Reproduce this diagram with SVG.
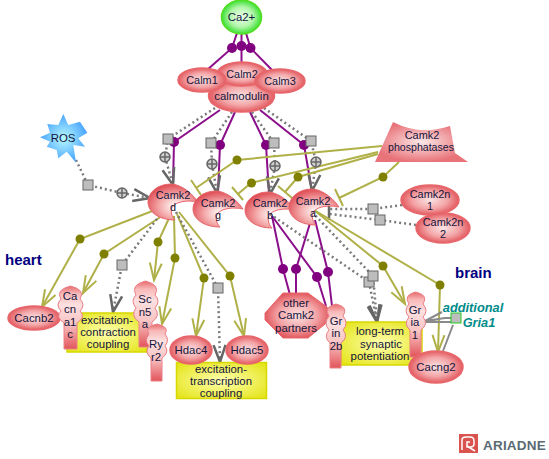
<svg xmlns="http://www.w3.org/2000/svg" width="549" height="459" viewBox="0 0 549 459">
<style>
text{font-family:"Liberation Sans",Arial,sans-serif;font-size:11.4px;fill:#14143c;text-anchor:middle}
.k{font-size:10.9px}
.ph{font-size:10.6px}
.e{fill:url(#red);stroke:#e8666a;stroke-width:1.5}
.c{fill:url(#cres);stroke:#e8666a;stroke-width:1}
.n{fill:url(#na);stroke:#e98088;stroke-width:1}
.y{fill:url(#yel);stroke:#d8d800;stroke-width:1.5}
.ol{fill:none;stroke:#b0b048;stroke-width:2}
.pu{fill:none;stroke:#8b0f8b;stroke-width:2}
.dg{fill:none;stroke:#7a7a7a;stroke-width:2.5;stroke-dasharray:2 3}
.t{fill:none;stroke:#b0b048;stroke-width:2}
.d{fill:#808000}
.p{fill:#800080}
.s{fill:#bdbdbd;stroke:#666;stroke-width:1}
.big{font-size:15px;font-weight:bold;fill:#000080;text-anchor:start}
.teal{font-size:12.8px;font-weight:bold;font-style:italic;fill:#008b8b}
</style>
<defs>
<radialGradient id="red"><stop offset="0" stop-color="#fbe4e4"/><stop offset=".6" stop-color="#f3a4a6"/><stop offset="1" stop-color="#e25a60"/></radialGradient>
<radialGradient id="cres" cx=".55" cy=".62" r=".6"><stop offset="0" stop-color="#fff"/><stop offset=".5" stop-color="#f5b0b0"/><stop offset="1" stop-color="#e0525a"/></radialGradient>
<radialGradient id="grn"><stop offset="0" stop-color="#f0fff0"/><stop offset=".6" stop-color="#b0f5a8"/><stop offset="1" stop-color="#38e030"/></radialGradient>
<radialGradient id="blu"><stop offset="0" stop-color="#b8fbff"/><stop offset="1" stop-color="#4aa4ff"/></radialGradient>
<radialGradient id="pin"><stop offset="0" stop-color="#fde8e8"/><stop offset="1" stop-color="#e8747a"/></radialGradient>
<radialGradient id="yel" r=".7"><stop offset="0" stop-color="#ffffb0"/><stop offset="1" stop-color="#e2e210"/></radialGradient>
<linearGradient id="na" x1="0" y1="0" x2="0" y2="1"><stop offset="0" stop-color="#e8686c"/><stop offset=".12" stop-color="#f8b8b8"/><stop offset=".3" stop-color="#fde0e0"/><stop offset=".6" stop-color="#f8c4c4"/><stop offset="1" stop-color="#e2545a"/></linearGradient>
<marker id="aO" markerUnits="userSpaceOnUse" markerWidth="22" markerHeight="16" refX="19" refY="8" orient="auto"><path d="M2,2 L19,8 L2,14" fill="none" stroke="#b0b048" stroke-width="2"/></marker>
<marker id="aD" markerUnits="userSpaceOnUse" markerWidth="22" markerHeight="16" refX="19" refY="8" orient="auto"><path d="M2,2 L19,8 L2,14" fill="none" stroke="#666" stroke-width="2.5"/></marker>
<path id="cr" d="M25,0 C17,-12 5,-18 -2,-18 C-16,-18 -25,-9 -25,0 C-25,10 -14,18 2,18 C-2,14 -3,8 0,4 C5,-1 16,-2 25,0 Z"/>
<g id="op"><circle r="5" fill="#d0d0d0" stroke="#666" stroke-width="1.5"/><path d="M-5,0H5M0,-5V5" stroke="#666" stroke-width="1.5"/></g>
</defs>
<g id="connectors">
<path class="pu" d="M237,33 L232,48 L207,70"/><path class="pu" d="M241.5,33 V66"/><path class="pu" d="M246,33 L250.5,48 L272,70"/>
<path class="pu" d="M220,110 L174,142 L173,185"/><path class="pu" d="M235,112 L220,145 L218,193"/><path class="pu" d="M250,112 L266,145 L269,194"/><path class="pu" d="M260,110 L304,145 L312,191"/>
<path class="dg" d="M215,108 L168,139 L165,157" /><path class="dg" d="M165,157 L173,185" marker-end="url(#aD)"/>
<path class="dg" d="M232,112 L211,143 L212,164"/><path class="dg" d="M212,164 L217,193" marker-end="url(#aD)"/>
<path class="dg" d="M252,112 L274,143 L275,166"/><path class="dg" d="M275,166 L270,194" marker-end="url(#aD)"/>
<path class="dg" d="M264,108 L311,141 L316,162"/><path class="dg" d="M316,162 L312,191" marker-end="url(#aD)"/>
<path class="dg" d="M76,160 L88,185 L122,193"/><path class="dg" d="M122,193 L150,198" marker-end="url(#aD)"/>
<path class="ol" d="M382,146 L237,160 L196,188"/><path class="t" d="M191,180 L201,195"/>
<path class="ol" d="M378,152 L251,183 L238,194"/><path class="t" d="M232,187 L243,200"/>
<path class="ol" d="M378,154 L298,177 L285,192"/><path class="t" d="M278,186 L292,198"/>
<path class="ol" d="M399,162 L383,177 L339,198"/><path class="t" d="M335,189 L343,206"/>
<path class="dg" d="M402,205 L373,209 L330,209"/><path class="dg" d="M416,225 L380,220 L330,214"/>
<path d="M329,206 V220" stroke="#666" stroke-width="2.5" fill="none"/>
<path class="ol" d="M155,210 L80,239 L42,307" marker-end="url(#aO)"/>
<path class="ol" d="M165,214 L104,254 L83,293" marker-end="url(#aO)"/>
<path class="dg" d="M160,215 L122,265 L113,312" marker-end="url(#aD)"/>
<path class="ol" d="M170,216 L158,242 L154,280" marker-end="url(#aO)"/>
<path class="ol" d="M174,216 L175,258 L162,324" marker-end="url(#aO)"/>
<path class="ol" d="M177,214 L204,278 L196,336" marker-end="url(#aO)"/>
<path class="ol" d="M179,212 L230,276 L244,336" marker-end="url(#aO)"/>
<path class="dg" d="M176,212 L218,288 L220,362" marker-end="url(#aD)"/>
<path class="pu" d="M272,216 L283,269 L290,295"/><path class="pu" d="M311,220 L296,269 L296,295"/>
<path class="pu" d="M272,216 L317,277 L326,306"/><path class="pu" d="M315,220 L328,272 L332,306"/>
<path class="dg" d="M270,214 L369,282 L377,322" marker-end="url(#aD)"/>
<path class="dg" d="M312,212 L373,276 L377,322" marker-end="url(#aD)"/>
<path class="ol" d="M314,210 L383,266 L405,304" marker-end="url(#aO)"/>
<path class="ol" d="M314,210 L440,285 L438,352" marker-end="url(#aO)"/>
<path d="M442,312 L425,321 L442,322 M425,321 L445,318 L452,318 M425,322 H451" fill="none" stroke="#8a8a8a" stroke-width="2"/>
<path d="M453,325 L443,351" fill="none" stroke="#8a8a8a" stroke-width="2"/>
<circle class="p" cx="232" cy="48" r="5"/><circle class="p" cx="241.5" cy="46" r="5"/><circle class="p" cx="250.5" cy="48" r="5"/>
<circle class="p" cx="174" cy="142" r="5"/><circle class="p" cx="220" cy="145" r="5"/><circle class="p" cx="266" cy="145" r="5"/><circle class="p" cx="304" cy="145" r="5"/>
<rect class="s" x="163" y="134" width="10" height="10"/><rect class="s" x="206" y="138" width="10" height="10"/><rect class="s" x="269" y="138" width="10" height="10"/><rect class="s" x="306" y="136" width="10" height="10"/>
<use href="#op" x="165" y="157"/><use href="#op" x="212" y="164"/><use href="#op" x="275" y="166"/><use href="#op" x="316" y="162"/><use href="#op" x="122" y="193"/>
<rect class="s" x="83" y="180" width="10" height="10"/>
<circle class="d" cx="237" cy="160" r="4.5"/><circle class="d" cx="251.5" cy="183" r="4.5"/><circle class="d" cx="298" cy="177" r="4.5"/><circle class="d" cx="383" cy="177" r="4.5"/>
<rect class="s" x="368" y="204" width="10" height="10"/><rect class="s" x="375" y="215" width="10" height="10"/>
<circle class="d" cx="80" cy="239" r="4.5"/><circle class="d" cx="104" cy="254" r="4.5"/><circle class="d" cx="158" cy="242" r="4.5"/><circle class="d" cx="175" cy="258" r="4.5"/><circle class="d" cx="204" cy="278" r="4.5"/><circle class="d" cx="230" cy="276" r="4.5"/>
<rect class="s" x="117" y="260" width="10" height="10"/><rect class="s" x="213" y="283" width="10" height="10"/>
<circle class="p" cx="283" cy="269" r="5"/><circle class="p" cx="296" cy="269" r="5"/><circle class="p" cx="317" cy="277" r="5"/><circle class="p" cx="328" cy="272" r="5"/>
<rect class="s" x="364" y="277" width="10" height="10"/><rect class="s" x="368" y="271" width="10" height="10"/>
<circle class="d" cx="383" cy="266" r="4.5"/><circle class="d" cx="440" cy="285" r="4.5"/>
<rect x="451" y="313" width="10" height="10" fill="#bdbdbd" stroke="#22cc22" stroke-width="1"/>
</g>
<g id="ca2"><ellipse cx="241.5" cy="17" rx="20" ry="17" fill="url(#grn)" stroke="#55dd22" stroke-width="1.5"/><text x="241.5" y="21">Ca2+</text></g>
<g id="calmodulin"><ellipse class="e" cx="241.5" cy="96" rx="33" ry="16"/><text x="241.5" y="100">calmodulin</text></g>
<g id="calm2"><ellipse class="e" cx="242" cy="74" rx="25" ry="12"/><text x="242" y="78" class="k">Calm2</text></g>
<g id="calm1"><ellipse class="e" cx="202" cy="80" rx="24" ry="12"/><text x="202" y="84" class="k">Calm1</text></g>
<g id="calm3"><ellipse class="e" cx="280" cy="81" rx="25" ry="12"/><text x="280" y="85" class="k">Calm3</text></g>
<g id="ros"><polygon points="63.3,114 68.3,125 80,121.7 87.3,132.7 78.3,138.3 85,146.7 73.3,145 76,162.7 66.7,151.7 58.3,158.3 56.7,150 46.7,146.7 50,141.7 40,137.3 50,132.7 47.3,124 58.3,125" fill="url(#blu)"/><text x="63" y="142">ROS</text></g>
<g id="camk2d"><use href="#cr" class="c" x="173" y="202"/><text x="173" y="199" class="k">Camk2</text><text x="173" y="211" class="k">d</text></g>
<g id="camk2g"><use href="#cr" class="c" x="218" y="209"/><text x="218" y="207" class="k">Camk2</text><text x="218" y="219" class="k">g</text></g>
<g id="camk2b"><use href="#cr" class="c" x="270" y="210"/><text x="270" y="207" class="k">Camk2</text><text x="270" y="219" class="k">b</text></g>
<g id="camk2a"><use href="#cr" class="c" x="314" y="207"/><text x="313" y="205" class="k">Camk2</text><text x="313" y="217" class="k">a</text></g>
<g id="phosphatases"><path d="M393,122 Q420,136 450,126 L455,153 L468,162 L375,162 Z" fill="url(#pin)"/><text x="422" y="139" class="k">Camk2</text><text x="421" y="151" class="ph">phosphatases</text></g>
<g id="camk2n1"><ellipse class="e" cx="430" cy="200" rx="29" ry="15"/><text x="430" y="198" class="k">Camk2n</text><text x="430" y="210" class="k">1</text></g>
<g id="camk2n2"><ellipse class="e" cx="443" cy="228" rx="27" ry="15"/><text x="443" y="226" class="k">Camk2n</text><text x="443" y="238" class="k">2</text></g>
<g id="cacnb2"><ellipse class="e" cx="34" cy="318" rx="26" ry="12"/><text x="34" y="322">Cacnb2</text></g>
<g id="ecc"><rect class="y" x="67" y="313" width="80" height="39"/><text x="107" y="324">excitation-</text><text x="108" y="336">contraction</text><text x="108" y="348">coupling</text></g>
<g id="cacna1c"><path class="n" d="M64,349 V323 Q55,317 61,311 Q55,305 61,299 Q55,290 70.5,286 Q86,290 80,299 Q86,305 80,311 Q86,317 77,323 V349 Z"/><text x="70" y="300">Ca</text><text x="70" y="313">cn</text><text x="70" y="326">a1</text><text x="70" y="338">c</text></g>
<g id="scn5a"><path class="n" d="M139,347 V322 Q130,316 136,308 Q130,301 136,295 Q130,285 145.5,281 Q161,285 155,295 Q161,301 155,308 Q161,316 152,322 V347 Z"/><text x="145" y="303">Sc</text><text x="145" y="316">n5</text><text x="145" y="328">a</text></g>
<g id="ryr2"><path class="n" d="M151,381 V358 Q144,352 149,346 Q144,340 149,334 Q144,327 157,324 Q170,327 165,334 Q170,340 165,346 Q170,352 162,358 V381 Z"/><text x="156" y="348">Ry</text><text x="156" y="361">r2</text></g>
<g id="etc"><rect class="y" x="176.500" y="362.500" width="90" height="36"/><text x="221" y="373">excitation-</text><text x="221" y="385">transcription</text><text x="221" y="397">coupling</text></g>
<g id="hdac4"><ellipse class="e" cx="191" cy="350" rx="21" ry="14"/><text x="191" y="354">Hdac4</text></g>
<g id="hdac5"><ellipse class="e" cx="247" cy="350" rx="21" ry="14"/><text x="247" y="354">Hdac5</text></g>
<g id="other"><polygon points="283,293 308,293 327,307 330,313 330,320 308,338 283,338 265,320 265,313" fill="url(#red)" stroke="#e8666a"/><text x="296" y="307">other</text><text x="296" y="319">Camk2</text><text x="296" y="332">partners</text></g>
<g id="ltp"><rect class="y" x="341" y="322" width="81" height="43"/><text x="380" y="335">long-term</text><text x="381" y="348">synaptic</text><text x="380" y="360">potentiation</text></g>
<g id="grin2b"><path class="n" d="M330,368 V343 Q323,337 329,330 Q323,323 329,316 Q323,307 336,304 Q349,307 343,316 Q349,323 343,330 Q349,337 341,343 V368 Z"/><text x="336" y="325">Gr</text><text x="336" y="337">in</text><text x="336" y="350">2b</text></g>
<g id="gria1"><path class="n" d="M410,357 V330 Q403,324 409,317 Q403,311 409,304 Q403,295 415.500,292 Q429,295 423,304 Q429,311 423,317 Q429,324 421,330 V357 Z"/><text x="415" y="314">Gr</text><text x="415" y="326">ia</text><text x="415" y="339">1</text></g>
<g id="cacng2"><ellipse class="e" cx="436" cy="367" rx="27" ry="16"/><text x="436" y="371">Cacng2</text></g>
<text class="big" x="5" y="265">heart</text>
<text class="big" x="455" y="278">brain</text>
<text class="teal" x="473" y="312">additional</text>
<text class="teal" x="479" y="327">Gria1</text>
<g id="logo">
<rect x="459" y="434" width="19" height="19" fill="#d9534f"/>
<path d="M462,450 V440 Q462,437 466,437 H470 Q474,437 474,441 V444 Q474,447 470,447 H467 V442 H470 M475,451 L467,446" fill="none" stroke="#fff" stroke-width="1.500"/>
<text x="483" y="450" style="font-size:13.5px;font-weight:bold;fill:#5a6a75;text-anchor:start;letter-spacing:.2px">ARIADNE</text>
</g>
</svg>
